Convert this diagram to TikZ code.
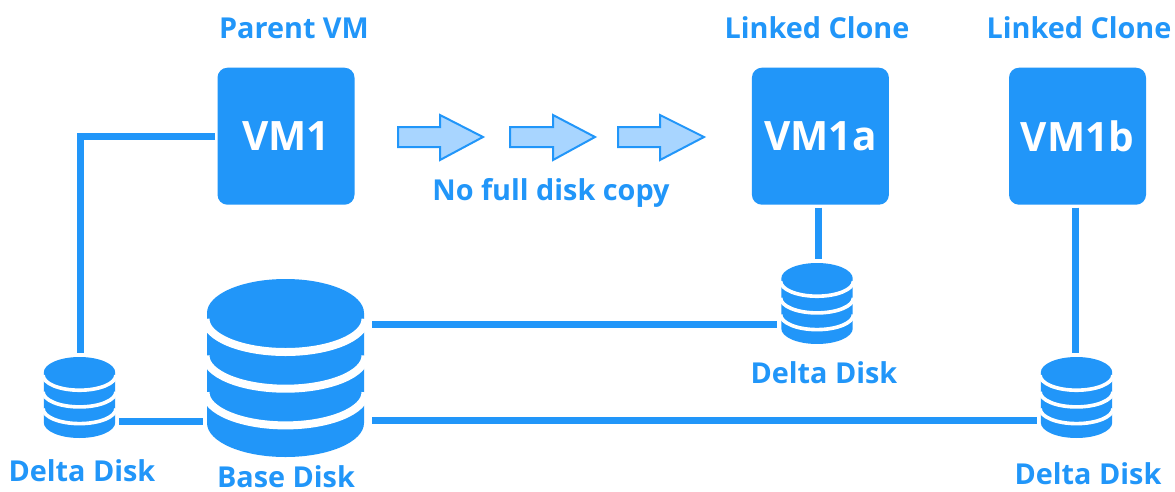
\documentclass[tikz,border=0pt]{standalone}
\usepackage{fontspec}
\setmainfont{Open Sans}
\definecolor{vmblue}{HTML}{2196F9}
\definecolor{arrowfill}{HTML}{A8D5FF}
\tikzset{
  vmbox/.style={draw=none,fill=vmblue,rounded corners=10pt,minimum width=137pt,minimum height=137pt,inner sep=0pt,outer sep=0pt,text=white,font=\fontsize{40.5}{44}\selectfont\bfseries},
  label/.style={text=vmblue,inner sep=0pt,font=\fontsize{28.8}{30}\selectfont\bfseries},
  wire/.style={draw=vmblue,line width=7pt},
  flowarrow/.style={draw=vmblue,fill=arrowfill,line width=2pt,line join=miter},
  diskmark/.style={inner sep=0pt,outer sep=4pt,draw=none}
}
% \diskicon{cx}{top}{scale}
\newcommand{\diskicon}[3]{%
  \begin{scope}[shift={(#1,#2)},scale=#3]
    \fill[vmblue] (-78.5,34) arc[start angle=180,end angle=360,x radius=78.5,y radius=34]
      -- (78.5,144) arc[start angle=0,end angle=180,x radius=78.5,y radius=34] -- cycle;
    \foreach \c in {40,76.7,113.4}{
      \draw[white,line width=#3*8pt] (-80,\c) arc[start angle=180,end angle=0,x radius=80,y radius=33];
    }
  \end{scope}}
\begin{document}
\begin{tikzpicture}[x=1pt,y=-1pt]
\useasboundingbox (0,0) rectangle (1175,491);
\fill[white] (0,0) rectangle (1175,491);

\node[vmbox] (vm1) at (286,136.2) {VM1};
\node[vmbox] (vm1a) at (820.4,136.2) {VM1a};
\node[vmbox] (vm1b) at (1077.5,136.2) {VM1b};

\node[label] (t1) at (294,28) {Parent VM};
\node[label] (t2) at (817,28) {Linked Clone};
\node[label] (t3) at (1079,28) {Linked Clone};
\node[label] (t4) at (551,193) {No full disk copy};
\node[label] (t5) at (82,471) {Delta Disk};
\node[label] (t6) at (824,373) {Delta Disk};
\node[label] (t7) at (1088,474) {Delta Disk};
\node[label] (t8) at (286,477) {Base Disk};

\diskicon{285.5}{279}{1}
\diskicon{79.5}{357}{.455}
\diskicon{817}{263}{.455}
\diskicon{1076.5}{357}{.455}

\node[diskmark,minimum width=157pt,minimum height=178pt] (base) at (285.5,368) {};
\node[diskmark,minimum width=71.4pt,minimum height=81pt] (dl) at (79.5,397.5) {};
\node[diskmark,minimum width=71.4pt,minimum height=81pt] (dm) at (817,303.5) {};
\node[diskmark,minimum width=71.4pt,minimum height=81pt] (dr) at (1076.5,397.5) {};

\coordinate (a) at (0,136.7);
\coordinate (b) at (0,421);
\coordinate (c) at (0,324);
\coordinate (d) at (0,420);
\coordinate (e) at (80,0);
\coordinate (f) at (818.5,0);
\coordinate (g) at (1075,0);

\draw[wire,shorten <=2.5pt] (vm1.west |- a) -- (e |- a) -- (e |- dl.north);
\draw[wire] (dl.east |- b) -- (base.west |- b);
\draw[wire,shorten <=4pt] (base.east |- c) -- (dm.west |- c);
\draw[wire,shorten <=4pt] (base.east |- d) -- (dr.west |- d);
\draw[wire,shorten <=3pt] (f |- vm1a.south) -- (f |- dm.north);
\draw[wire,shorten <=3pt] (g |- vm1b.south) -- (g |- dr.north);

\draw[flowarrow] (398,127) -- (440,127) -- (440,115) -- (483,137) -- (440,160) -- (440,147) -- (398,147) -- cycle;
\draw[flowarrow] (510,127) -- (553,127) -- (553,115) -- (595,137) -- (553,160) -- (553,147) -- (510,147) -- cycle;
\draw[flowarrow] (618,127) -- (660,127) -- (660,115) -- (704,137) -- (660,160) -- (660,147) -- (618,147) -- cycle;
\end{tikzpicture}
\end{document}
